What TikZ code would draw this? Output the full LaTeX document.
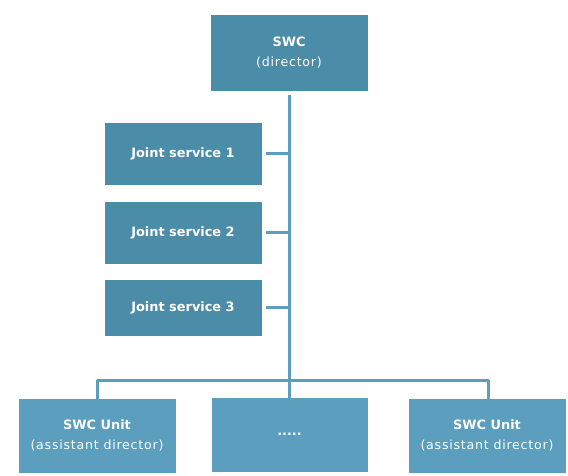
\documentclass[tikz,border=0pt]{standalone}
\usepackage{fontspec}
\setmainfont{DejaVu Sans}
\newfontfamily\widefont[LetterSpace=6]{DejaVu Sans}
\definecolor{darkbox}{HTML}{4B8CA8}
\definecolor{lightbox}{HTML}{5C9EBD}
\definecolor{linecol}{HTML}{5C9EBD}
\newcommand{\headtext}[1]{{\fontsize{12.9}{20}\selectfont\bfseries #1}}
\newcommand{\subtext}[1]{{\widefont #1}}
\begin{document}
\begin{tikzpicture}[x=1pt,y=-1pt,
  box/.style={draw=white,line width=0.6pt,inner sep=0pt,text=white,align=center,font=\fontsize{12.6}{20}\selectfont},
  dbox/.style={box,fill=darkbox},
  lbox/.style={box,fill=lightbox},
  conn/.style={draw=linecol,line width=3pt}]
\useasboundingbox (0,0) rectangle (568,476);
\node[dbox,minimum width=158pt,minimum height=77pt] (swc) at (289,52.5) {\headtext{SWC}\\\subtext{(director)}};
\node[dbox,minimum width=158pt,minimum height=63pt] (j1) at (183,153.5) {\headtext{Joint service 1}};
\node[dbox,minimum width=158pt,minimum height=63pt] (j2) at (183,232.5) {\headtext{Joint service 2}};
\node[dbox,minimum width=158pt,minimum height=57pt] (j3) at (183,307.5) {\headtext{Joint service 3}};
\node[lbox,minimum width=158pt,minimum height=75pt] (u1) at (97,435.5) {\headtext{SWC Unit}\\\subtext{(assistant director)}};
\node[lbox,minimum width=157pt,minimum height=75pt] (u2) at (289.5,434.5) {\headtext{.....}};
\node[lbox,minimum width=158pt,minimum height=75pt] (u3) at (487,435.5) {\headtext{SWC Unit}\\\subtext{(assistant director)}};
\coordinate (top) at (289,95);
\coordinate (mid) at (289,380);
\coordinate (lft) at (97,380);
\coordinate (rgt) at (488,380);
\path[conn] (top) -- (mid);
\path[conn] ([xshift=4pt]j1.east) -- (j1.east -| top);
\path[conn] ([xshift=4pt]j2.east) -- (j2.east -| top);
\path[conn] ([xshift=4pt]j3.east) -- (j3.east -| top);
\path[conn,line join=round] ([yshift=-3pt]u1.north) -- (lft) -- (rgt) -- ([yshift=-3pt]u3.north -| rgt);
\path[conn] (mid) -- ([yshift=-3pt]u2.north -| mid);
\end{tikzpicture}
\end{document}
